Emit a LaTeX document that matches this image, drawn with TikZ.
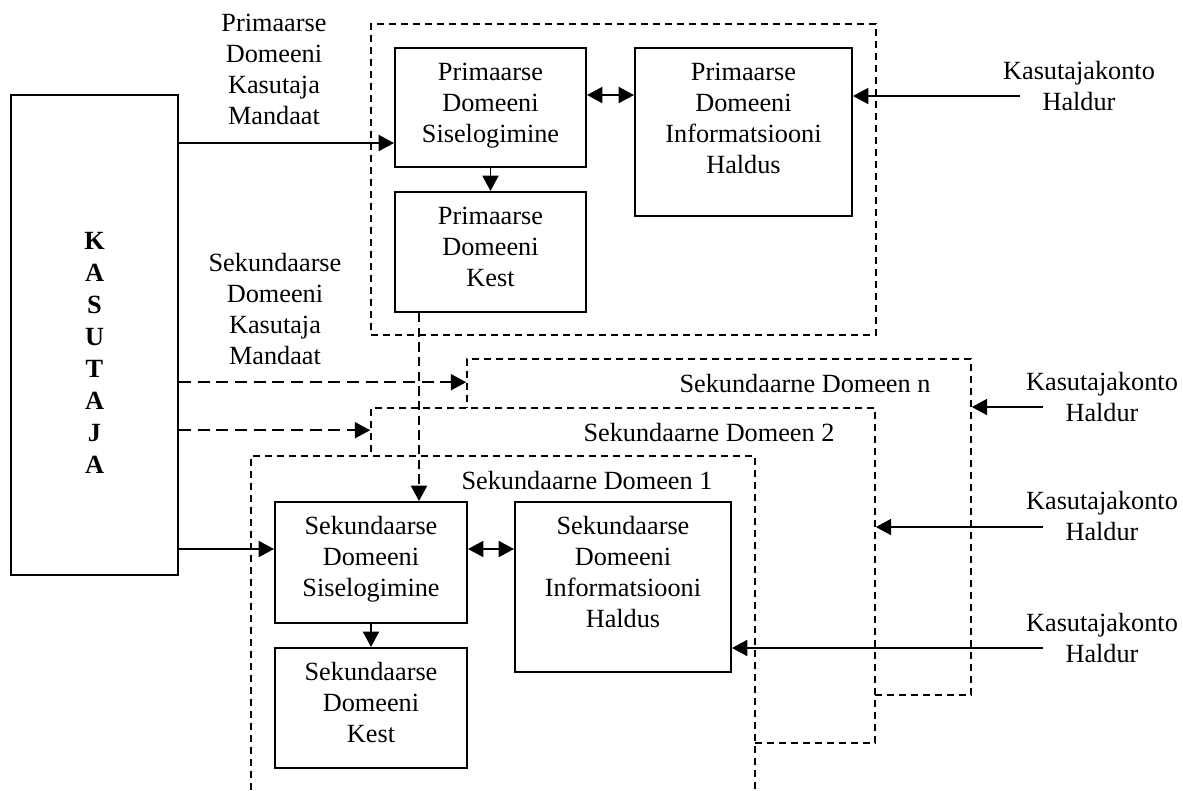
\documentclass[tikz,border=0pt]{standalone}
\usepackage{fontspec}
\setmainfont{Liberation Serif}
\usetikzlibrary{arrows.meta,calc}
% box content: fixed-size parbox, text hung from the top by a leading strut
\newcommand\topcell[4][24pt]{\parbox[c][#3][t]{#2}{\centering\rule{0pt}{#1}#4}}
\newcommand\lead{\rule{0pt}{20pt}}
\begin{document}
\begin{tikzpicture}[x=0.75pt,y=-0.75pt,
  every node/.style={inner sep=0pt},
  txt/.style={font=\fontsize{19.7pt}{23.25pt}\selectfont, align=center, anchor=north},
  unit/.style={draw, line width=1.5pt, fill=white, font=\fontsize{19.7pt}{23.25pt}\selectfont},
  domframe/.style={draw, line width=1.2pt, dash pattern=on 5.5pt off 3.5pt, fill=white},
  domline/.style={line width=1.2pt, dash pattern=on 5.5pt off 3.5pt},
  tip/.tip={Triangle[length=11.5pt,width=12pt]},
  link/.style={line width=1.4pt, -tip},
  twoway/.style={line width=1.4pt, tip-tip},
  dlink/.style={link, dash pattern=on 9pt off 5pt},
  vlink/.style={link, dash pattern=on 7pt off 4pt},
]
\useasboundingbox (0,0) rectangle (1183,790);

% domain frames, back to front
\node[domframe, minimum width=378.75pt, minimum height=233.25pt] (pf) at (623.5,179.5) {};
\node[domframe, minimum width=378pt, minimum height=252pt] (dn) at (719,527) {};
\node[domframe, minimum width=378pt, minimum height=251.25pt] (d2) at (623,575.5) {};
% front secondary domain, open at the bottom
\fill[white] (251,456) rectangle (755,790);
\draw[domline] (251,790) -- (251,456) -- (755,456) -- (755,790);

\node[txt, anchor=base] (ldn) at (805,392) {Sekundaarne Domeen n};
\node[txt, anchor=base] (ld2) at (709,441) {Sekundaarne Domeen 2};
\node[txt, anchor=base] (ld1) at (587,489) {Sekundaarne Domeen 1};

% user
\node[unit, font=\fontsize{19.7pt}{24.1pt}\selectfont\bfseries] (kas) at (94.5,335)
  {\topcell[115.5pt]{125.25pt}{360pt}{K\\A\\S\\U\\T\\A\\J\\A}};

% primary domain
\node[unit] (ps) at (490.5,107.5) {\topcell{143.25pt}{89.25pt}{Primaarse\\Domeeni\\Siselogimine}};
\node[unit] (pk) at (490.5,252) {\topcell{143.25pt}{90pt}{Primaarse\\Domeeni\\Kest}};
\node[unit] (pi) at (743.5,132) {\topcell{162.75pt}{126pt}{Primaarse\\Domeeni\\Informatsiooni\\Haldus}};

% secondary domain
\node[unit] (ss) at (371,562.5) {\topcell{144pt}{90.75pt}{Sekundaarse\\Domeeni\\Siselogimine}};
\node[unit] (sk) at (371,708) {\topcell{144pt}{90pt}{Sekundaarse\\Domeeni\\Kest}};
\node[unit] (si) at (623,587) {\topcell{162pt}{127.5pt}{Sekundaarse\\Domeeni\\Informatsiooni\\Haldus}};

% side labels
\node[txt] (pm) at (274,4.3) {\lead Primaarse\\Domeeni\\Kasutaja\\Mandaat};
\node[txt] (sm) at (275,244.3) {\lead Sekundaarse\\Domeeni\\Kasutaja\\Mandaat};
\node[txt] (k0) at (1079,52.3) {\lead Kasutajakonto\\Haldur};
\node[txt] (k1) at (1102,363.3) {\lead Kasutajakonto\\Haldur};
\node[txt] (k2) at (1102,482.3) {\lead Kasutajakonto\\Haldur};
\node[txt] (k3) at (1102,604.3) {\lead Kasutajakonto\\Haldur};

% account manager inputs
\coordinate (k0s) at (1020,96);
\coordinate (k1s) at (1043,407);
\coordinate (k2s) at (1043,527);
\coordinate (k3s) at (1043,648);
\draw[link] (k0s) -- (k0s -| pi.east);
\draw[link] (k1s) -- (k1s -| dn.east);
\draw[link] (k2s) -- (k2s -| d2.east);
\draw[link] (k3s) -- (k3s -| si.east);

% credentials from the user
\coordinate (m1) at ($(ps.north west)+(0,96)$);
\coordinate (m2) at ($(dn.north west)+(0,24)$);
\coordinate (m3) at ($(d2.north west)+(0,23)$);
\coordinate (m4) at ($(ss.north west)+(0,48)$);
\draw[link] (kas.east |- m1) -- (m1);
\draw[dlink] (kas.east |- m2) -- (m2);
\draw[dlink] (kas.east |- m3) -- (m3);
\draw[link] (kas.east |- m4) -- (m4);

% inner links
\coordinate (p1) at ($(ps.north east)+(0,48)$);
\draw[twoway] (p1) -- (p1 -| pi.west);
\draw[twoway] (m4 -| ss.east) -- (m4 -| si.west);
\draw[link] (ps.south) -- (pk.north);
\draw[link] (ss.south) -- (sk.north);
\coordinate (v1) at ($(pk.south west)+(25,0)$);
\draw[vlink] (v1) -- (v1 |- ss.north);
\end{tikzpicture}
\end{document}
